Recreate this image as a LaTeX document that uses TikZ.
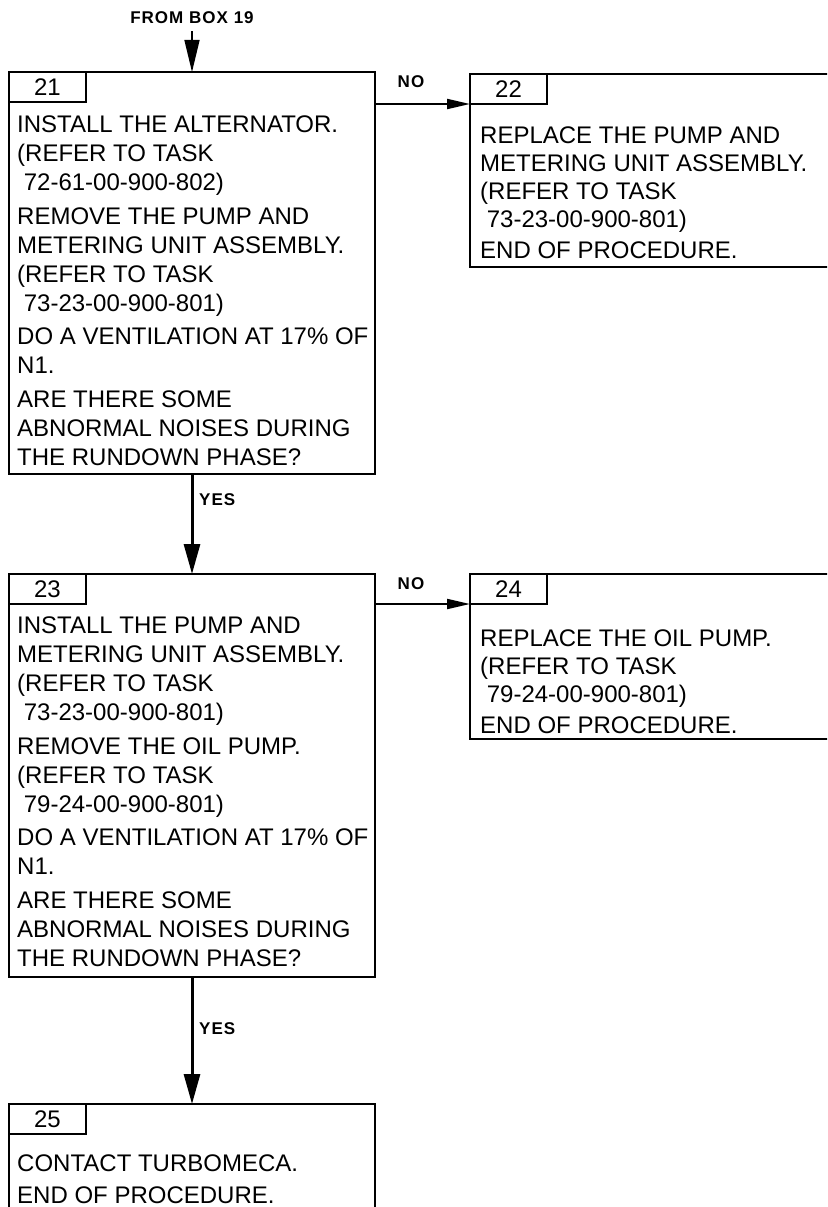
\documentclass[tikz,border=0pt]{standalone}
\usepackage{fontspec}
\setmainfont{Liberation Sans}
\usetikzlibrary{arrows.meta,positioning}

\tikzset{
  box/.style={draw, line width=2pt, rectangle, outer sep=0pt, inner sep=0pt, anchor=north west},
  tab/.style={box, minimum width=77pt, minimum height=30pt, font=\fontsize{24}{29}\selectfont},
  txt/.style={align=left, inner sep=0pt, anchor=north west, font=\fontsize{24}{29}\selectfont,
    execute at begin node={\rule{0pt}{20pt}}},
  txtr/.style={txt, font=\fontsize{24}{28}\selectfont},
  lbl/.style={inner sep=0pt, font=\fontsize{17}{20}\selectfont\bfseries\addfontfeature{LetterSpace=6}},
  flow/.style={line width=3pt, -{Triangle[length=30pt,width=16pt]}},
  noflow/.style={line width=2pt, -{Triangle[length=23pt,width=10pt]}},
}

\begin{document}
\begin{tikzpicture}[x=1pt, y=-1pt]
    \useasboundingbox (0,0) rectangle (827,1207);
    \clip (0,0) rectangle (827,1207);

    % Kaesten
    \node[box, minimum width=366pt, minimum height=402pt] (b21) at (9,72) {};
    \node[box, minimum width=500pt, minimum height=193pt] (b22) at (470,74) {};
    \node[box, minimum width=366pt, minimum height=403pt] (b23) at (9,574) {};
    \node[box, minimum width=500pt, minimum height=165pt] (b24) at (470,574) {};
    \node[box, minimum width=366pt, minimum height=200pt] (b25) at (9,1104) {};

    % Nummern
    \foreach \n in {21,22,23,24,25}
        \node[tab] (t\n) at (b\n.north west) {\n};

    % Texte
    \node[txt, xshift=8pt, yshift=-43.5pt] (x21) at (b21.north west)
        {INSTALL THE ALTERNATOR.\\(REFER TO TASK\\\ 72-61-00-900-802)\\[4.7pt]
         REMOVE THE PUMP AND\\METERING UNIT ASSEMBLY.\\(REFER TO TASK\\\ 73-23-00-900-801)\\[4.7pt]
         DO A VENTILATION AT 17\% OF\\N1.\\[4.7pt]
         ARE THERE SOME\\ABNORMAL NOISES DURING\\THE RUNDOWN PHASE?};
    \node[txtr, xshift=10pt, yshift=-52.5pt] (x22) at (b22.north west)
        {REPLACE THE PUMP AND\\METERING UNIT ASSEMBLY.\\(REFER TO TASK\\\ 73-23-00-900-801)\\[3pt]
         END OF PROCEDURE.};
    \node[txt, xshift=8pt, yshift=-42.5pt] (x23) at (b23.north west)
        {INSTALL THE PUMP AND\\METERING UNIT ASSEMBLY.\\(REFER TO TASK\\\ 73-23-00-900-801)\\[4.7pt]
         REMOVE THE OIL PUMP.\\(REFER TO TASK\\\ 79-24-00-900-801)\\[4.7pt]
         DO A VENTILATION AT 17\% OF\\N1.\\[4.7pt]
         ARE THERE SOME\\ABNORMAL NOISES DURING\\THE RUNDOWN PHASE?};
    \node[txtr, xshift=10pt, yshift=-55.5pt] (x24) at (b24.north west)
        {REPLACE THE OIL PUMP.\\(REFER TO TASK\\\ 79-24-00-900-801)\\[3pt]
         END OF PROCEDURE.};
    \node[txt, xshift=8pt, yshift=-50.5pt] (x25) at (b25.north west)
        {CONTACT TURBOMECA.\\[3pt]END OF PROCEDURE.};

    % Eingang
    \node[lbl, anchor=base] (src) at (192,24) {FROM BOX 19};
    \draw[line width=1.5pt, -{Triangle[length=32pt,width=15pt]}, shorten <=7pt]
        (src.south) -- (src.south |- b21.north);

    % Verbindungen
    \draw[flow] (b21.south) -- (b23.north);
    \draw[flow] (b23.south) -- (b25.north);
    \draw[noflow] (b21.east |- t22.south west) -- (t22.south west);
    \draw[noflow] (b23.east |- t24.south west) -- (t24.south west);

    \node[lbl, anchor=west] (yes21) at (199,500) {YES};
    \node[lbl, anchor=west] (yes23) at (199,1029) {YES};
    \node[lbl] (no21) at (411,82) {NO};
    \node[lbl] (no23) at (411,584) {NO};
\end{tikzpicture}
\end{document}
